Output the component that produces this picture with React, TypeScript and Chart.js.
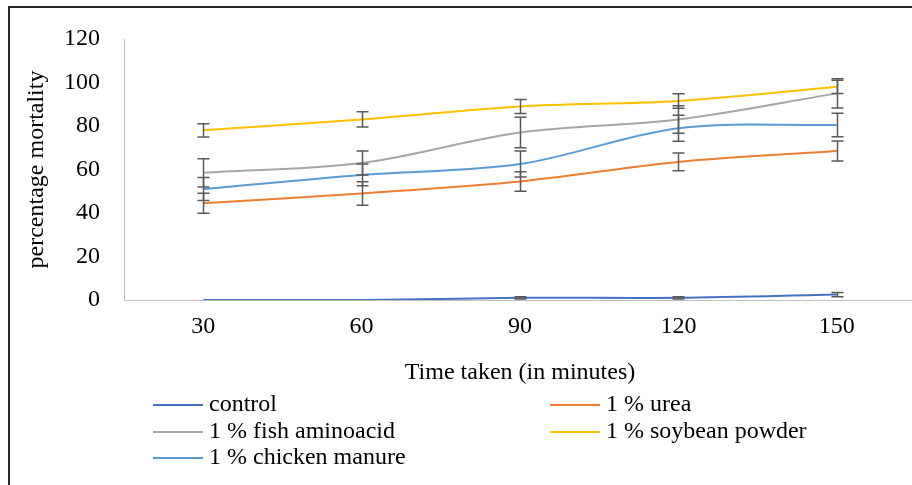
import React, { useEffect, useRef } from "react";
import { Chart, registerables } from "chart.js";

Chart.register(...registerables);

const categories = ["30", "60", "90", "120", "150"];
const seriesNames = [
  "control",
  "1 % urea",
  "1 % fish aminoacid",
  "1 % soybean powder",
  "1 % chicken manure",
];
const seriesColors = ["#4472C4", "#ED7D31", "#A5A5A5", "#FFC000", "#5B9BD5"];

const controlValues = [0, 0, 1, 1, 2.5];
const ureaValues = [44.5, 49, 54.5, 63.5, 68.5];
const fishValues = [58.5, 63, 77, 83, 95];
const soybeanValues = [78, 83, 89, 91.5, 98];
const chickenValues = [51, 57.5, 62.5, 79, 80.5];

const controlErrors = [0, 0, 0.5, 0.5, 1];
const ureaErrors = [4.6, 5.4, 4.5, 4.1, 4.6];
const fishErrors = [6.5, 5.5, 7, 6.3, 6.7];
const soybeanErrors = [3, 3.5, 3.2, 3.3, 3];
const chickenErrors = [5.3, 5, 6, 6, 5.4];

const yMin = 0;
const yMax = 120;
const yStep = 20;

const xTitle = "Time taken (in minutes)";
const yTitle = "percentage mortality";

const FONT = "'Liberation Serif', 'Times New Roman', serif";
const FONT_SIZE = 24;

const errorBarPlugin = {
  id: "errorBars",
  afterDatasetsDraw(chart: any) {
    const ctx = chart.ctx;
    const yScale = chart.scales.y;
    ctx.save();
    ctx.strokeStyle = "#595959";
    ctx.lineWidth = 1.5;
    chart.data.datasets.forEach((ds: any, i: number) => {
      const meta = chart.getDatasetMeta(i);
      const errs: number[] = ds.errors || [];
      meta.data.forEach((pt: any, j: number) => {
        const v = ds.data[j];
        const e = errs[j];
        if (v == null || !e) return;
        const x = Math.round(pt.x) + 0.5;
        const yTop = yScale.getPixelForValue(v + e);
        const yBot = yScale.getPixelForValue(v - e);
        ctx.beginPath();
        ctx.moveTo(x, yTop);
        ctx.lineTo(x, yBot);
        ctx.moveTo(x - 6, yTop);
        ctx.lineTo(x + 6, yTop);
        ctx.moveTo(x - 6, yBot);
        ctx.lineTo(x + 6, yBot);
        ctx.stroke();
      });
    });
    ctx.restore();
  },
};

const legendPlugin = {
  id: "gridLegend",
  afterDraw(chart: any) {
    const ctx = chart.ctx;
    const colX = [153, 550];
    const rowY = [405, 432, 458];
    const lineLen = 50;
    ctx.save();
    ctx.font = `${FONT_SIZE}px ${FONT}`;
    ctx.textBaseline = "middle";
    ctx.textAlign = "left";
    chart.data.datasets.forEach((ds: any, i: number) => {
      const col = i % 2;
      const row = Math.floor(i / 2);
      const x = colX[col];
      const y = rowY[row];
      ctx.strokeStyle = ds.borderColor;
      ctx.lineWidth = 2;
      ctx.beginPath();
      ctx.moveTo(x, y);
      ctx.lineTo(x + lineLen, y);
      ctx.stroke();
      ctx.fillStyle = "#000";
      ctx.fillText(ds.label, x + lineLen + 6, y);
    });
    ctx.restore();
  },
};

const framePlugin = {
  id: "frame",
  beforeDraw(chart: any) {
    const ctx = chart.ctx;
    ctx.save();
    ctx.fillStyle = "#fff";
    ctx.fillRect(0, 0, chart.width, chart.height);
    ctx.strokeStyle = "#262626";
    ctx.lineWidth = 2;
    ctx.beginPath();
    ctx.moveTo(9, chart.height);
    ctx.lineTo(9, 7);
    ctx.lineTo(chart.width, 7);
    ctx.stroke();
    ctx.restore();
  },
};

export default function App() {
  const canvasRef = useRef<HTMLCanvasElement | null>(null);

  useEffect(() => {
    const canvas = canvasRef.current;
    if (!canvas) return;
    const values = [controlValues, ureaValues, fishValues, soybeanValues, chickenValues];
    const errors = [controlErrors, ureaErrors, fishErrors, soybeanErrors, chickenErrors];
    const datasets = seriesNames.map((name, i) => ({
      label: name,
      data: values[i],
      errors: errors[i],
      borderColor: seriesColors[i],
      backgroundColor: seriesColors[i],
      borderWidth: 2,
      pointRadius: 0,
      pointHoverRadius: 0,
      tension: 0.33,
      fill: false,
      order: seriesNames.length - i,
    }));

    const chart = new Chart(canvas, {
      type: "line",
      data: { labels: categories, datasets: datasets as any },
      options: {
        animation: false,
        responsive: false,
        devicePixelRatio: 1,
        layout: { padding: { left: 0, right: 14, top: 39, bottom: 95 } },
        plugins: {
          legend: { display: false },
          tooltip: { enabled: false },
        },
        scales: {
          x: {
            type: "category",
            offset: true,
            grid: { display: false, drawTicks: false },
            border: { display: true, color: "#BFBFBF", width: 1, z: 1 },
            ticks: {
              color: "#000",
              font: { family: FONT, size: FONT_SIZE },
              padding: 12,
              maxRotation: 0,
            },
            title: {
              display: true,
              text: xTitle,
              color: "#000",
              font: { family: FONT, size: FONT_SIZE },
              padding: { top: 0, bottom: 3 },
            },
            afterFit: (scale: any) => {
              scale.height = 90;
            },
          },
          y: {
            min: yMin,
            max: yMax,
            grid: { display: false, drawTicks: false },
            border: { display: true, color: "#BFBFBF", width: 1 },
            ticks: {
              stepSize: yStep,
              color: "#000",
              font: { family: FONT, size: FONT_SIZE },
              padding: 24,
            },
            title: {
              display: true,
              text: yTitle,
              color: "#000",
              font: { family: FONT, size: FONT_SIZE },
              padding: { top: 22, bottom: 0 },
            },
            afterFit: (scale: any) => {
              scale.width = 124;
            },
          },
        },
      },
      plugins: [framePlugin, errorBarPlugin, legendPlugin],
    });
    return () => chart.destroy();
  }, []);

  return (
    <div
      style={{
        position: "fixed",
        left: 0,
        top: 0,
        width: 912,
        height: 485,
        overflow: "hidden",
        background: "#fff",
      }}
    >
      <canvas
        ref={canvasRef}
        width={930}
        height={485}
        style={{ width: 930, height: 485, display: "block" }}
      />
    </div>
  );
}
